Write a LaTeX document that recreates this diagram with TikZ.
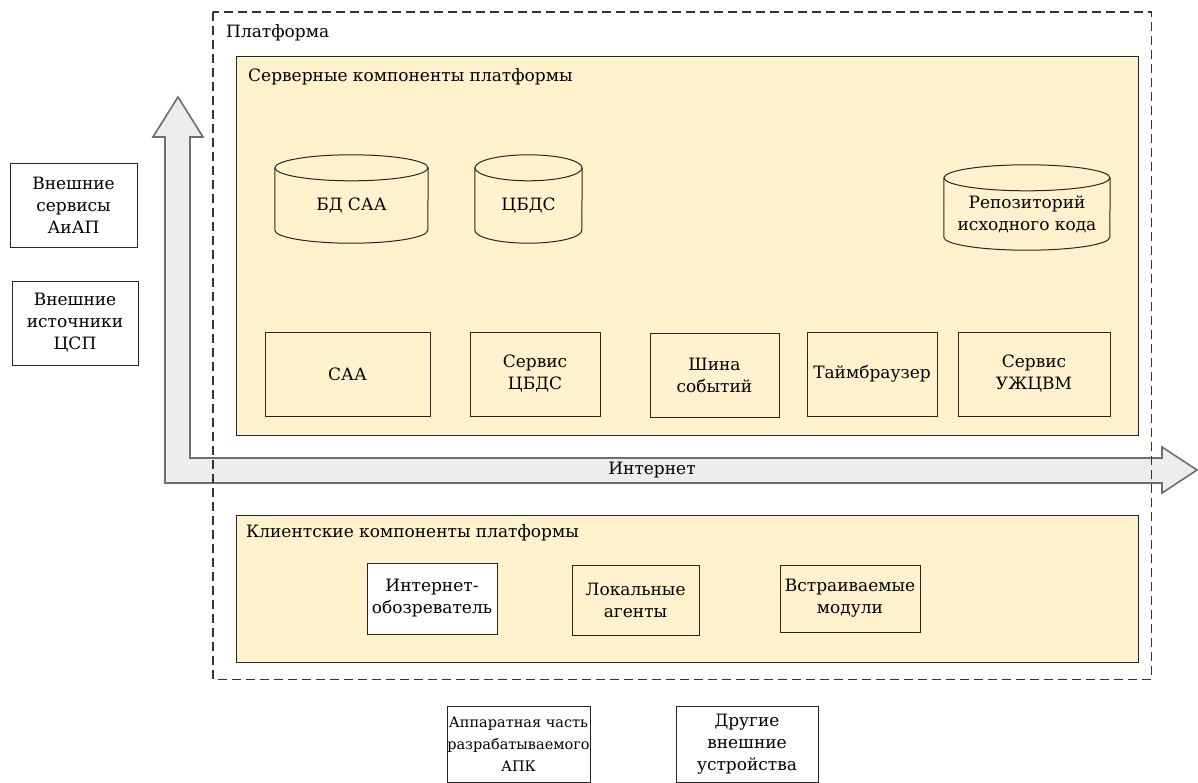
\documentclass[tikz,border=0pt]{standalone}
\usepackage{fontspec}
\newfontfamily\tnrfont{DejaVu Serif}
\usetikzlibrary{positioning}
\definecolor{cream}{HTML}{FFF2CC}
\definecolor{arrowfill}{HTML}{EDEDED}
\definecolor{arrowline}{HTML}{6E6E6E}
\tikzset{
txt/.style={font=\tnrfont\fontsize{17}{22}\selectfont,align=center,inner sep=0pt},
platform/.style={draw=black!80,line width=1.2pt,dash pattern=on 9pt off 5pt},
groupbox/.style={draw=black!85,line width=1.1pt,fill=cream,anchor=north west,inner sep=0pt},
grouplabel/.style={txt,anchor=north west},
block/.style={txt,draw=black!85,line width=1pt,fill=cream},
extbox/.style={txt,draw=black!85,line width=1pt,fill=white},
dbstore/.style={txt},
dbline/.style={draw=black!85,line width=1pt},
netarrow/.style={draw=arrowline,line width=1.6pt,fill=arrowfill,line join=miter}
}
% cylinder outline round a named node (node = body under the top ellipse): #1 node, #2 half width
\newcommand{\dbcyl}[2]{%
  \draw[dbline] (#1.north) ellipse [x radius=#2pt,y radius=13pt];
  \draw[dbline] (#1.north west) -- ([yshift=13pt]#1.south west)
    arc[start angle=180,end angle=360,x radius=#2pt,y radius=13pt] -- (#1.north east);
}
\begin{document}
\begin{tikzpicture}[x=1pt,y=-1pt]
\useasboundingbox (0,0) rectangle (1198,782);
% internet arrow
\draw[netarrow] (165,483) -- (165,137) -- (153,137) -- (178,97) -- (203,137) -- (190,137)
  -- (190,458) -- (1162,458) -- (1162,447) -- (1197,470) -- (1162,493) -- (1162,483) -- cycle;
\node[txt] (net) at (652,470) {Интернет};
% platform
\node[draw=none,anchor=north west,minimum width=938,minimum height=667,inner sep=0pt] (plat) at (213,12) {};
\draw[platform] (plat.north west) rectangle (plat.south east);
\node[grouplabel] (platlbl) at (226,24) {Платформа};
% server side
\node[groupbox,minimum width=902,minimum height=379] (server) at (236,56) {};
\node[grouplabel] (serverlbl) at (248,68) {Серверные компоненты платформы};
\node[dbstore,minimum width=153,minimum height=75] (dbsaa) at (351.5,205.5) {БД САА};
\node[dbstore,minimum width=107,minimum height=75] (cbds) at (528.5,205.5) {ЦБДС};
\node[dbstore,minimum width=166,minimum height=72] (repo) at (1027,214) {Репозиторий\\исходного кода};
\dbcyl{dbsaa}{76.5}
\dbcyl{cbds}{53.5}
\dbcyl{repo}{83}
\node[block,minimum width=165,minimum height=84] (saa) at (347.5,374) {САА};
\node[block,minimum width=130,minimum height=84] (cbdssrv) at (535,374) {Сервис\\ЦБДС};
\node[block,minimum width=129,minimum height=84] (bus) at (714.5,375) {Шина\\событий};
\node[block,minimum width=130,minimum height=84] (tbr) at (872,374) {Таймбраузер};
\node[block,minimum width=152,minimum height=84] (lcm) at (1034,374) {Сервис\\УЖЦВМ};
% client side
\node[groupbox,minimum width=902,minimum height=147] (client) at (236,515) {};
\node[grouplabel] (clientlbl) at (246,524) {Клиентские компоненты платформы};
\node[extbox,minimum width=130,minimum height=71] (browser) at (432,598.5) {Интернет-\\обозреватель};
\node[block,minimum width=127,minimum height=70] (agents) at (635.5,600) {Локальные\\агенты};
\node[block,minimum width=140,minimum height=67] (embed) at (850,598.5) {Встраиваемые\\модули};
% external
\node[extbox,minimum width=127,minimum height=84] (aiap) at (73.5,205) {Внешние\\сервисы\\АиАП};
\node[extbox,minimum width=126,minimum height=84] (csp) at (75,323) {Внешние\\источники\\ЦСП};
\node[extbox,minimum width=143,minimum height=76,font=\tnrfont\fontsize{14.5}{22}\selectfont] (hw) at (518.5,744) {Аппаратная часть\\разрабатываемого\\АПК};
\node[extbox,minimum width=142,minimum height=76] (devs) at (747,744) {Другие\\внешние\\устройства};
\end{tikzpicture}
\end{document}
